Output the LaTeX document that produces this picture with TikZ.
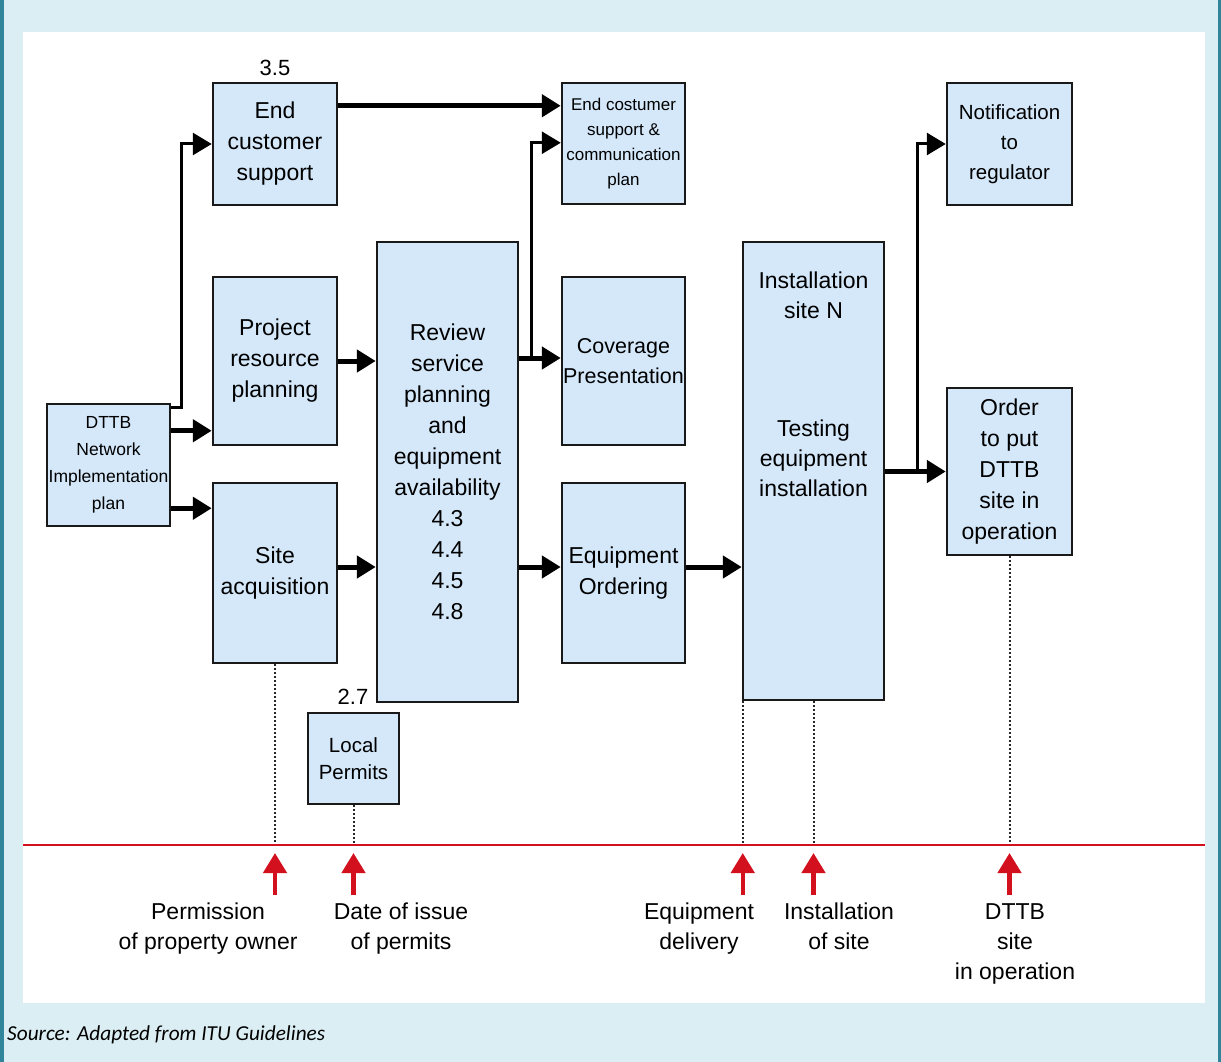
\documentclass[tikz,border=0pt]{standalone}
\usepackage{fontspec}
\setmainfont{Liberation Sans}
\newfontfamily\srcfont{Carlito}
\usetikzlibrary{arrows.meta,calc}
\definecolor{bgblue}{RGB}{219,238,244}
\definecolor{striptl}{RGB}{49,133,155}
\definecolor{boxfill}{RGB}{212,232,250}
\definecolor{redln}{RGB}{210,16,30}
\begin{document}
\begin{tikzpicture}[x=1pt,y=-1pt,
  box/.style={draw=black!90, line width=2.5pt, fill=boxfill, align=center, inner sep=0pt,
    font=\fontsize{23}{31}\selectfont},
  conn/.style={line width=5pt, -{Triangle[length=19pt,width=22pt]}},
  tconn/.style={line width=3pt, -{Triangle[length=19pt,width=22pt]}},
  dots/.style={line width=2pt, dash pattern=on 2pt off 2pt, black!85},
  redarr/.style={line width=4.5pt, redln, -{Triangle[length=20pt,width=23pt]}},
  lbl/.style={align=center, anchor=north, font=\fontsize{23}{30}\selectfont, inner sep=0pt},
  num/.style={font=\fontsize{22}{26}\selectfont, inner sep=0pt}
]
\useasboundingbox (0,0) rectangle (1221,1062);
\fill[bgblue] (0,0) rectangle (1221,1062);
\fill[striptl] (0,0) rectangle (4,1062);
\fill[striptl] (1218,0) rectangle (1221,1062);
\fill[white] (23,32) rectangle (1205,1003);

% boxes
\node[box, minimum width=124pt, minimum height=122pt] (ecs) at (275,144) {End\\customer\\support};
\node[num] (n35) at (275,68) {3.5};
\node[box, minimum width=123pt, minimum height=121pt, font=\fontsize{17}{25}\selectfont] (ecsp) at (623.5,143.5) {End costumer\\support \&\\communication\\plan};
\node[box, minimum width=125pt, minimum height=122pt, font=\fontsize{20.5}{30}\selectfont] (notif) at (1009.5,144) {Notification\\to\\regulator};
\node[box, minimum width=124pt, minimum height=168pt] (proj) at (275,361) {Project\\resource\\planning};
\node[box, minimum width=123pt, minimum height=122pt, font=\fontsize{17.5}{27}\selectfont] (dttb) at (108.5,465) {DTTB\\Network\\Implementation\\plan};
\node[box, minimum width=124pt, minimum height=180pt] (site) at (275,573) {Site\\acquisition};
\node[box, minimum width=141pt, minimum height=460pt] (review) at (447.5,472) {Review\\service\\planning\\and\\equipment\\availability\\4.3\\4.4\\4.5\\4.8};
\node[box, minimum width=123pt, minimum height=168pt, font=\fontsize{21.5}{30}\selectfont] (cov) at (623.5,361) {Coverage\\Presentation};
\node[box, minimum width=123pt, minimum height=180pt] (eqord) at (623.5,573) {Equipment\\Ordering};
\node[box, minimum width=141pt, minimum height=458pt] (inst) at (813.5,471) {};
\node[align=center, inner sep=0pt, font=\fontsize{23}{30}\selectfont] (insttxt) at (813.5,384) {Installation\\site N\\[88pt]Testing\\equipment\\installation};
\node[box, minimum width=125pt, minimum height=167pt] (order) at (1009.5,471.5) {Order\\to put\\DTTB\\site in\\operation};
\node[box, minimum width=91pt, minimum height=91pt, font=\fontsize{20.5}{27}\selectfont] (local) at (353.5,758.5) {Local\\Permits};
\node[num] (n27) at (353,697) {2.7};

% connectors
\draw[conn] ([yshift=-24pt]ecs.north east) -- ([yshift=-24pt]ecsp.north west);
\draw[tconn] ([yshift=-5pt]dttb.north east) -- ++(10,0) |- (ecs.west);
\coordinate (d1) at ([yshift=-28pt]dttb.north east);
\draw[conn] (d1) -- (d1 -| proj.west);
\coordinate (d2) at ([yshift=19pt]dttb.south east);
\draw[conn] (d2) -- (d2 -| site.west);
\draw[conn] (proj.east) -- (proj.east -| review.west);
\coordinate (s1) at ([yshift=6pt]site.east);
\draw[conn] (s1) -- (s1 -| review.west);
\coordinate (c1) at ([yshift=3pt]cov.west);
\draw[conn] (c1 -| review.east) -- (c1);
\coordinate (b1) at ($(c1 -| review.east)+(12,0)$);
\draw[tconn] (b1) |- ([yshift=-61pt]ecsp.north west);
\coordinate (e1) at ([yshift=6pt]eqord.west);
\draw[conn] (e1 -| review.east) -- (e1);
\coordinate (e2) at ([yshift=6pt]eqord.east);
\draw[conn] (e2) -- (e2 -| inst.west);
\draw[conn] (order.west -| inst.east) -- (order.west);
\coordinate (b2) at ($(order.west -| inst.east)+(32,0)$);
\draw[tconn] (b2) |- (notif.west);

% time line
\coordinate (rl) at (23,845);
\coordinate (rr) at (1205,845);
\coordinate (p1) at (site.south);
\coordinate (p2) at (local.south);
\coordinate (p3) at ([xshift=1pt]inst.south west);
\coordinate (p4) at (inst.south);
\coordinate (p5) at (order.south);
\foreach \p in {p1,p2,p3,p4,p5}{
  \draw[dots] (\p) -- (\p |- rl);
}
\draw[redln, line width=2.5pt] (rl) -- (rr);
\foreach \p in {p1,p2,p3,p4,p5}{
  \coordinate (\p tip) at ($(\p |- rl)+(0,8)$);
  \coordinate (\p base) at ($(\p |- rl)+(0,50)$);
  \draw[redarr] (\p base) -- (\p tip);
}

% labels
\node[lbl] (l1) at (208,903) {Permission\\of property owner};
\node[lbl] (l2) at (401,903) {Date of issue\\of permits};
\node[lbl] (l3) at (699,903) {Equipment\\delivery};
\node[lbl] (l4) at (839,903) {Installation\\of site};
\node[lbl] (l5) at (1015,903) {DTTB\\site\\in operation};

\node[anchor=west, inner sep=0pt, font=\srcfont\itshape\fontsize{21.3}{25}\selectfont] (src) at (7,1035) {Source: Adapted from ITU Guidelines};
\end{tikzpicture}
\end{document}
